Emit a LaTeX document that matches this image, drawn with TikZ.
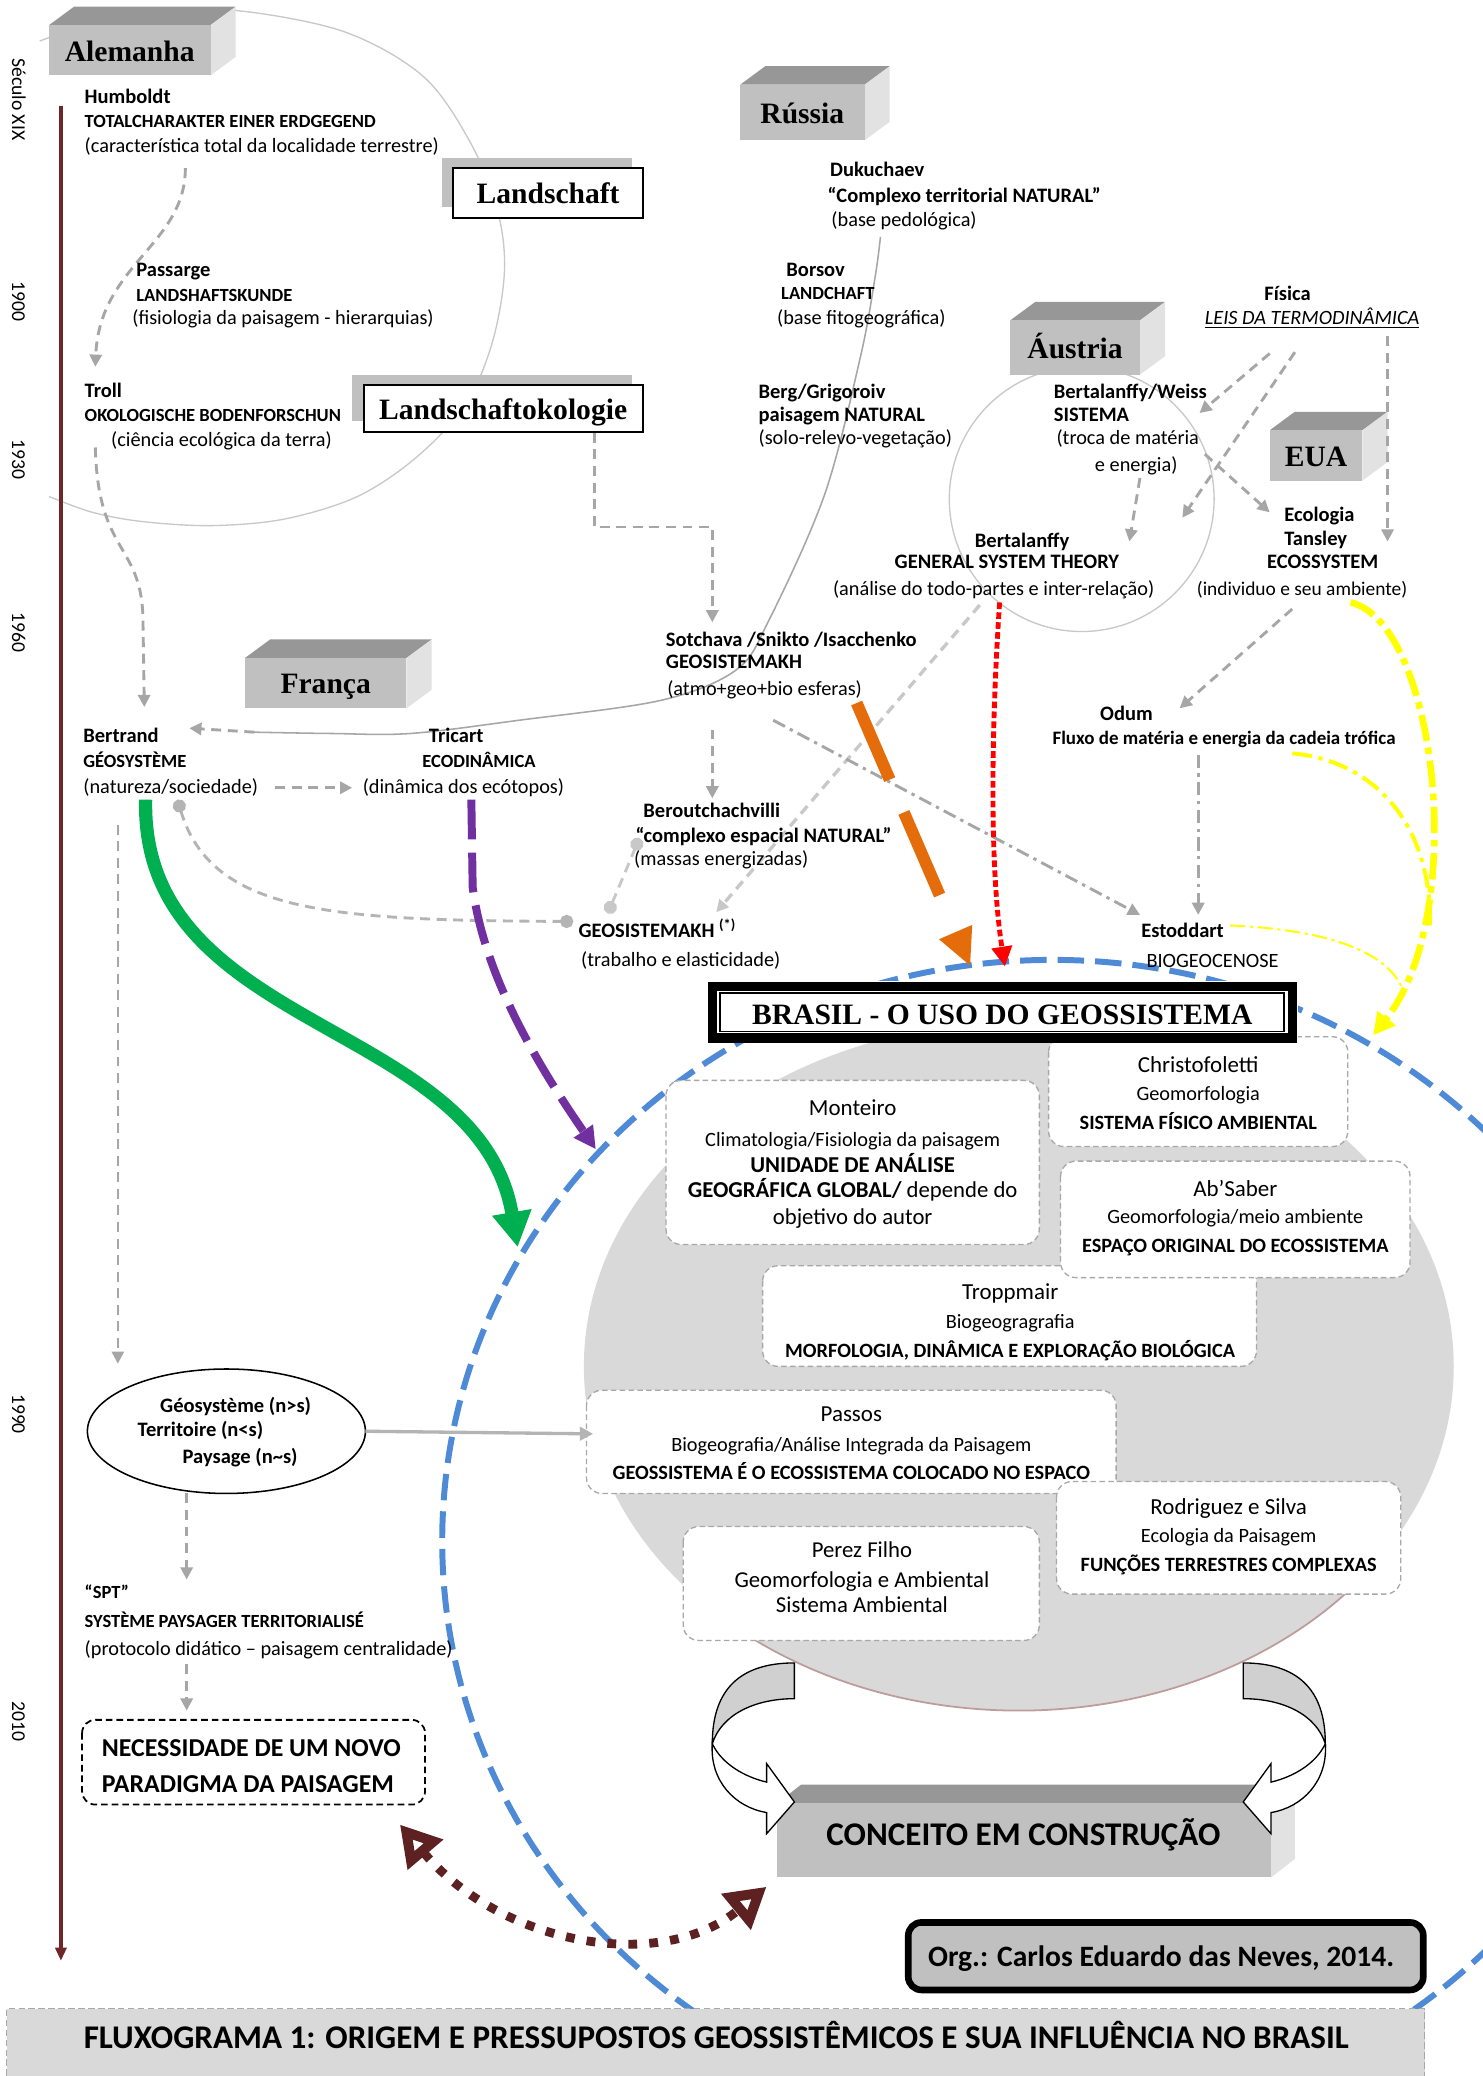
\documentclass[tikz,border=0pt]{standalone}
\usepackage{fontspec}
\setmainfont{Carlito}
\newfontfamily\titlefont{Liberation Serif}
\usetikzlibrary{arrows.meta,shapes.geometric}

\definecolor{timeline}{HTML}{6E2626}
\definecolor{linkgray}{HTML}{A6A6A6}
\definecolor{softgray}{HTML}{C8C8C8}
\definecolor{dotgray}{HTML}{B4B4B4}
\definecolor{boxrim}{HTML}{A8A8A8}
\definecolor{areagray}{HTML}{D9D9D9}
\definecolor{arearim}{HTML}{BE9C9C}
\definecolor{geoblue}{HTML}{4F8AD6}
\definecolor{geogreen}{HTML}{00B050}
\definecolor{geopurple}{HTML}{7030A0}
\definecolor{geoorange}{HTML}{E46C0A}
\definecolor{geoyellow}{HTML}{FFFF00}
\definecolor{geobrown}{HTML}{5E2121}
\definecolor{cubefront}{HTML}{C0C0C0}
\definecolor{cubetop}{HTML}{979797}
\definecolor{cubeside}{HTML}{E2E2E2}
\definecolor{ribbon}{HTML}{D0D0D0}

\tikzset{
  base/.style={inner sep=0pt, outer sep=0pt},
  lab/.style={base, anchor=west},
  hd/.style={lab, font=\fontsize{9.3}{11}\selectfont\bfseries, text height=7pt, text depth=0.8pt},
  cp/.style={lab, font=\fontsize{8.4}{10}\selectfont\bfseries, text height=6.3pt, text depth=0.8pt},
  ps/.style={lab, font=\fontsize{9.2}{11}\selectfont, text height=6.9pt, text depth=0.8pt},
  mid/.style={anchor=center},
  yearlab/.style={base, rotate=-90, font=\fontsize{8.9}{10}\selectfont, text height=6.7pt, text depth=0.8pt},
  ctitle/.style={base, font=\titlefont\bfseries\fontsize{13.4}{15}\selectfont, text height=9.5pt, text depth=1pt},
  bname/.style={base, font=\fontsize{10.4}{12}\selectfont, text height=7.8pt, text depth=0.9pt},
  bsub/.style={base, font=\fontsize{9.2}{11}\selectfont, text height=6.9pt, text depth=0.8pt},
  bcaps/.style={base, font=\fontsize{9.2}{11}\selectfont\bfseries, text height=6.9pt, text depth=0.8pt},
  bbig/.style={base, font=\fontsize{10.3}{12}\selectfont, text height=7.7pt, text depth=0.9pt},
  bigbold/.style={base, font=\fontsize{15}{17}\selectfont\bfseries, text height=11pt, text depth=1.3pt},
  inbox/.style={fill=white, draw=boxrim, line width=0.6pt, dash pattern=on 2.5pt off 1.5pt, rounded corners=7pt},
  link/.style={draw=linkgray, line width=1.3pt, dash pattern=on 4.5pt off 3pt, -{Triangle[length=5.5pt,width=5.5pt]}},
  softlink/.style={link, draw=softgray, line width=1.5pt},
  dashdotlink/.style={link, dash pattern=on 6pt off 2.5pt on 1.5pt off 2.5pt},
  dotlink/.style={draw=dotgray, line width=1.3pt, dash pattern=on 4.5pt off 3pt, {Circle[length=6pt]}-{Circle[length=6pt]}},
}

% grey block with a darker top and a lighter right face
\newcommand\cubebox[6]{%
  \fill[cubetop] (#2,#3) -- (#2+19,#3-14) -- (#4+19,#3-14) -- (#4,#3) -- cycle;
  \fill[cubeside] (#4,#3) -- (#4+19,#3-14) -- (#4+19,#5-14) -- (#4,#5) -- cycle;
  \fill[cubefront] (#2,#3) rectangle (#4,#5);
  \node[ctitle] (#1) at ({(#2+#4)/2},{(#3+#5)/2+1}) {#6};}

\begin{document}
\begin{tikzpicture}[x=0.6pt,y=-0.6pt]
\useasboundingbox (0,0) rectangle (1120,1568);
\fill[white] (0,0) rectangle (1120,1568);

% ---------- outlines behind everything ----------
\draw[softgray, line width=0.6pt] plot[smooth, tension=0.55] coordinates
  {(30,31) (70,18) (120,10) (179,8) (260,24) (320,58) (356,109) (376,160) (381,205) (372,258) (352,305) (315,345) (270,375) (215,392) (160,397) (108,394) (70,387) (37,375)};
\draw[softgray, line width=0.6pt] (817,377) circle [radius=100];

\draw[geoblue, line width=2.7pt, dash pattern=on 12pt off 5pt] (795,1164) ellipse [x radius=461, y radius=439];

\fill[areagray] (769.5,1032) ellipse [x radius=328.5, y radius=260];
\draw[arearim, line width=0.8pt] (769.5,1032) ++(140:328.5 and 260) arc[start angle=140, end angle=35, x radius=328.5, y radius=260];

% ---------- Brazilian authors ----------
\draw[inbox] (503,816) rectangle (785,940);
\draw[inbox] (792,783) rectangle (1018,866);
\draw[inbox] (576,956) rectangle (949,1032);
\draw[inbox] (801,877) rectangle (1065,965);
\draw[inbox] (443,1050) rectangle (843,1128);
\draw[inbox] (798,1119) rectangle (1058,1204);
\draw[inbox] (516,1153) rectangle (785,1239);

\node[bname] (mont1) at (644,837) {Monteiro};
\node[bsub]  (mont2) at (644,861) {Climatologia/Fisiologia da paisagem};
\node[bbig]  (mont3) at (644,880) {\bfseries UNIDADE DE ANÁLISE};
\node[bbig]  (mont4) at (644,899) {{\bfseries GEOGRÁFICA GLOBAL/} depende do};
\node[bbig]  (mont5) at (644,919) {objetivo do autor};

\node[bname] (chr1) at (905,804) {Christofoletti};
\node[bsub]  (chr2) at (905,826) {Geomorfologia};
\node[bcaps] (chr3) at (905,848) {SISTEMA FÍSICO AMBIENTAL};

\node[bname] (abs1) at (933,898) {Ab’Saber};
\node[bsub]  (abs2) at (933,919) {Geomorfologia/meio ambiente};
\node[bcaps] (abs3) at (933,941) {ESPAÇO ORIGINAL DO ECOSSISTEMA};

\node[bname] (tro1) at (763,976) {Troppmair};
\node[bsub]  (tro2) at (763,998) {Biogeogragrafia};
\node[bcaps] (tro3) at (763,1020) {MORFOLOGIA, DINÂMICA E EXPLORAÇÃO BIOLÓGICA};

\node[bname] (pas1) at (643,1068) {Passos};
\node[bsub]  (pas2) at (643,1091) {Biogeografia/Análise Integrada da Paisagem};
\node[bcaps] (pas3) at (643,1112) {GEOSSISTEMA É O ECOSSISTEMA COLOCADO NO ESPACO};

\node[bname] (rod1) at (928,1138) {Rodriguez e Silva};
\node[bsub]  (rod2) at (928,1160) {Ecologia da Paisagem};
\node[bcaps] (rod3) at (928,1182) {FUNÇÕES TERRESTRES COMPLEXAS};

\node[bbig] (per1) at (651,1171) {Perez Filho};
\node[bbig] (per2) at (651,1193) {Geomorfologia e Ambiental};
\node[bbig] (per3) at (651,1212) {Sistema Ambiental};

% ---------- title frame ----------
\fill[white] (534,741) rectangle (980,788);
\draw[line width=4.2pt] (538,745) rectangle (976,784);
\draw[line width=0.8pt] (544,750) rectangle (970,779);
\node[ctitle] (brasil) at (757,767) {BRASIL - O USO DO GEOSSISTEMA};

% ---------- country blocks ----------
\cubebox{alemanha}{37}{19}{159}{57}{Alemanha}
\cubebox{russia}{559}{64}{653}{106}{Rússia}
\cubebox{austria}{763}{242}{861}{283}{Áustria}
\cubebox{eua}{959}{325}{1029}{363}{EUA}
\cubebox{franca}{185}{497}{307}{535}{França}

\fill[cubefront] (334,119) rectangle (477,156);
\draw[fill=white, line width=0.9pt] (342,127) rectangle (486,165);
\node[ctitle] (landschaft) at (414,147) {Landschaft};
\fill[cubefront] (266,283) rectangle (477,318);
\draw[fill=white, line width=0.9pt] (275,291) rectangle (486,326);
\node[ctitle] (lsoek) at (380,310) {Landschaftokologie};

% ---------- concept block and turning arrows ----------
\fill[cubetop] (587,1362) -- (605,1348) -- (978,1348) -- (960,1362) -- cycle;
\fill[cubeside] (960,1362) -- (978,1348) -- (978,1404) -- (960,1418) -- cycle;
\fill[cubefront] (587,1362) rectangle (960,1418);
\node[bigbold] (conceito) at (773,1386) {CONCEITO EM CONSTRUÇÃO};

\filldraw[fill=ribbon, draw=black, line width=0.6pt]
  (600,1256) .. controls (560,1256) and (538,1275) .. (538,1317)
  .. controls (545,1295) and (570,1283) .. (600,1283) -- cycle;
\filldraw[fill=white, draw=black, line width=0.6pt]
  (538,1317) .. controls (536,1345) and (555,1365) .. (579,1369)
  -- (579,1385) -- (600,1361) -- (579,1332) -- (579,1346)
  .. controls (562,1342) and (545,1332) .. (538,1317) -- cycle;
\filldraw[fill=ribbon, draw=black, line width=0.6pt]
  (939,1256) .. controls (979,1256) and (1001,1275) .. (1001,1317)
  .. controls (994,1295) and (969,1283) .. (939,1283) -- cycle;
\filldraw[fill=white, draw=black, line width=0.6pt]
  (1001,1317) .. controls (1003,1345) and (984,1365) .. (960,1369)
  -- (960,1385) -- (939,1361) -- (960,1332) -- (960,1346)
  .. controls (977,1342) and (994,1332) .. (1001,1317) -- cycle;

% ---------- lower left boxes ----------
\node[base, draw, ellipse, line width=0.7pt, minimum width=126pt, minimum height=56.4pt] (geoell) at (171,1081) {};
\draw[line width=0.8pt, dash pattern=on 3pt off 1.8pt, rounded corners=6pt] (62,1299) rectangle (321,1363);
\draw[fill=cubefront, line width=3pt, rounded corners=6pt] (686,1452) rectangle (1075,1503);
\fill[areagray] (5,1517) rectangle (1076,1568);
\draw[boxrim, line width=0.6pt, dash pattern=on 3pt off 1.5pt] (5,1568) -- (5,1517) -- (1076,1517) -- (1076,1568);

% ---------- time axis ----------
\draw[timeline, line width=1.5pt, -{Triangle[length=6pt,width=5pt]}] (46,80) -- (46,1481);
\node[yearlab] (y19) at (14,75) {Século XIX};
\node[yearlab] (y1900) at (14,228) {1900};
\node[yearlab] (y1930) at (14,347) {1930};
\node[yearlab] (y1960) at (14,478) {1960};
\node[yearlab] (y1990) at (14,1068) {1990};
\node[yearlab] (y2010) at (14,1300) {2010};

% ---------- grey connectors ----------
\coordinate (humbA) at (140,127);  \coordinate (trollB) at (72,277);
\draw[link] (humbA) .. controls (140,185) and (75,200) .. (trollB);
\coordinate (trollA) at (72,338);  \coordinate (bertB) at (109,534);
\draw[link] (trollA) .. controls (74,420) and (108,410) .. (108,470) -- (bertB);
\coordinate (lsoekA) at (449,327); \coordinate (sotB) at (538,470);
\draw[link] (lsoekA) -- (449,398) -- (538,398) -- (sotB);
\coordinate (sotA) at (538,551); \coordinate (berB) at (538,603);
\draw[link] (sotA) -- (berB);
\coordinate (bertA) at (208,595); \coordinate (triB) at (266,595);
\draw[link] (bertA) -- (triB);

\coordinate (dukA) at (665,179); \coordinate (dukM) at (192,553); \coordinate (dukB) at (143,550);
\draw[linkgray, line width=0.7pt] plot[smooth, tension=0.55] coordinates
  {(dukA) (661,209) (650,269) (623,373) (581,468) (556,506) (499,529) (392,544) (310,554) (250,554) (dukM)};
\draw[link] (dukM) -- (dukB);

\coordinate (bertC) at (134,604); \coordinate (gkC) at (433,696);
\draw[dotlink] (bertC) .. controls (160,690) and (250,695) .. (gkC);
\coordinate (gkD) at (459,690); \coordinate (berD) at (483,633);
\draw[dotlink, draw=softgray] (gkD) -- (berD);

\coordinate (gstA) at (740,457); \coordinate (gkB) at (541,689);
\draw[softlink] (gstA) -- (gkB);
\coordinate (sotC) at (584,544); \coordinate (stoB) at (861,691);
\draw[dashdotlink] (sotC) -- (stoB);
\coordinate (odA) at (905,570); \coordinate (stoC) at (905,691);
\draw[dashdotlink] (odA) -- (stoC);
\coordinate (tanA) at (976,460); \coordinate (odB) at (891,535);
\draw[link] (tanA) -- (odB);

\coordinate (fisA) at (959,267); \coordinate (weiB) at (906,312);
\draw[link] (fisA) -- (weiB);
\coordinate (fisC) at (978,266); \coordinate (gstB) at (893,391);
\draw[link] (fisC) -- (gstB);
\coordinate (weiA) at (910,343); \coordinate (ecoB) at (959,387);
\draw[link] (weiA) -- (ecoB);
\coordinate (weiC) at (861,361); \coordinate (gstC) at (853,409);
\draw[link] (weiC) -- (gstC);
\coordinate (leisA) at (1048,254); \coordinate (tanB) at (1048,409);
\draw[link] (leisA) -- (tanB);

\coordinate (bertD) at (89,623); \coordinate (ellB) at (89,1030);
\draw[link, line width=1pt] (bertD) -- (ellB);
\coordinate (ellA) at (141,1128); \coordinate (sptB) at (141,1193);
\draw[link] (ellA) -- (sptB);
\coordinate (sptA) at (141,1257); \coordinate (necB) at (141,1292);
\draw[link] (sptA) -- (necB);
\coordinate (pasB) at (448,1083);
\draw[softgray!90!black, line width=1.5pt, -{Triangle[length=6pt,width=6pt]}] (geoell.east) -- (pasB);

% ---------- coloured flows ----------
\coordinate (grA) at (110,604); \coordinate (grB) at (391,942);
\draw[geogreen, line width=6pt, -{Triangle[length=16pt,width=17pt]}] (grA) .. controls (106,780) and (362,770) .. (grB);
\coordinate (puA) at (356,604); \coordinate (puB) at (450,868);
\draw[geopurple, line width=3.6pt, dash pattern=on 18pt off 6pt, -{Triangle[length=10pt,width=10pt]}]
  (puA) -- (357,670) .. controls (366,740) and (410,810) .. (puB);
\coordinate (orA) at (647,531); \coordinate (orB) at (733,730);
\draw[geoorange, line width=5.4pt, dash pattern=on 37.8pt off 16.2pt on 40.8pt off 60pt, -{Triangle[length=17pt,width=15pt]}] (orA) -- (orB);
\coordinate (reA) at (755,455); \coordinate (reB) at (759,730);
\draw[red, line width=2.2pt, dash pattern=on 3pt off 1.5pt, -{Triangle[length=9pt,width=9pt]}]
  (reA) .. controls (748,560) and (748,660) .. (reB);
\coordinate (yeA) at (1020,455); \coordinate (yeB) at (1037,782);
\draw[geoyellow, line width=3pt, dash pattern=on 12pt off 3pt on 3pt off 3pt, -{Triangle[length=10pt,width=10pt]}]
  (yeA) .. controls (1085,470) and (1110,690) .. (yeB);
\coordinate (yeC) at (976,569); \coordinate (yeD) at (1080,700);
\draw[geoyellow, line width=1.8pt, dash pattern=on 9pt off 3pt on 2pt off 3pt] (yeC) .. controls (1040,575) and (1082,625) .. (yeD);
\coordinate (yeE) at (929,699); \coordinate (yeF) at (1061,752);
\draw[geoyellow, line width=0.9pt, dash pattern=on 7pt off 2pt on 1.5pt off 2pt] (yeE) .. controls (1000,702) and (1052,718) .. (yeF);
\coordinate (brA) at (302,1378); \coordinate (brB) at (579,1425);
\draw[geobrown, line width=4pt, dash pattern=on 4pt off 5.5pt,
  {Triangle[open,length=18pt,width=20pt,line width=6pt]}-{Triangle[open,length=18pt,width=20pt,line width=6pt]}]
  (brA) .. controls (380,1470) and (500,1490) .. (brB);

% ---------- labels ----------
\node[hd] (humb1) at (64,73) {Humboldt};
\node[cp] (humb2) at (64,92) {TOTALCHARAKTER EINER ERDGEGEND};
\node[ps] (humb3) at (64,110) {(característica total da localidade terrestre)};
\node[hd] (pass1) at (103,204) {Passarge};
\node[cp] (pass2) at (103,223) {LANDSHAFTSKUNDE};
\node[ps] (pass3) at (100,240) {(fisiologia da paisagem - hierarquias)};
\node[hd] (troll1) at (64,295) {Troll};
\node[cp] (troll2) at (64,314) {OKOLOGISCHE BODENFORSCHUN};
\node[ps] (troll3) at (84,332) {(ciência ecológica da terra)};

\node[hd] (duk1) at (627,128) {Dukuchaev};
\node[hd] (duk2) at (625,148) {“Complexo territorial NATURAL”};
\node[ps] (duk3) at (628,166) {(base pedológica)};
\node[hd] (bor1) at (594,204) {Borsov};
\node[cp] (bor2) at (590,222) {LANDCHAFT};
\node[ps] (bor3) at (587,240) {(base fitogeográfica)};
\node[hd] (berg1) at (573,296) {Berg/Grigoroiv};
\node[hd] (berg2) at (573,313) {paisagem NATURAL};
\node[ps] (berg3) at (573,331) {(solo-relevo-vegetação)};

\node[hd] (fis1) at (955,222) {Física};
\node[ps] (fis2) at (910,240) {\itshape\underline{LEIS DA TERMODINÂMICA}};
\node[hd] (wei1) at (796,296) {Bertalanffy/Weiss};
\node[hd] (wei2) at (796,313) {SISTEMA};
\node[ps] (wei3) at (798,331) {(troca de matéria};
\node[ps] (wei4) at (827,351) {e energia)};
\node[hd, mid] (gst1) at (772,408) {Bertalanffy};
\node[hd, mid] (gst2) at (760.5,424) {GENERAL SYSTEM THEORY};
\node[ps, mid] (gst3) at (750.5,445) {(análise do todo-partes e inter-relação)};
\node[hd] (tan1) at (970,389) {Ecologia};
\node[hd] (tan2) at (970,407) {Tansley};
\node[hd] (tan3) at (957,424) {ECOSSYSTEM};
\node[ps, font=\fontsize{8.8}{10}\selectfont] (tan4) at (904,445) {(individuo e seu ambiente)};

\node[hd] (sot1) at (503,483) {Sotchava /Snikto /Isacchenko};
\node[hd] (sot2) at (503,500) {GEOSISTEMAKH};
\node[ps] (sot3) at (504,520) {(atmo+geo+bio esferas)};
\node[hd] (bert1) at (63,556) {Bertrand};
\node[cp] (bert2) at (63,575) {GÉOSYSTÈME};
\node[ps] (bert3) at (63,594) {(natureza/sociedade)};
\node[hd] (tri1) at (324,556) {Tricart};
\node[cp] (tri2) at (319,575) {ECODINÂMICA};
\node[ps] (tri3) at (274,594) {(dinâmica dos ecótopos)};
\node[hd] (odum1) at (831,539) {Odum};
\node[hd, font=\fontsize{8.6}{10}\selectfont\bfseries] (odum2) at (795,557) {Fluxo de matéria e energia da cadeia trófica};
\node[hd] (ber1) at (486,612) {Beroutchachvilli};
\node[hd] (ber2) at (480,631) {“complexo espacial NATURAL”};
\node[ps] (ber3) at (479,649) {(massas energizadas)};
\node[hd] (gk1) at (437,703) {GEOSISTEMAKH \textsuperscript{(*)}};
\node[ps] (gk2) at (439,725) {(trabalho e elasticidade)};
\node[hd] (sto1) at (862,703) {Estoddart};
\node[ps] (sto2) at (866,726) {BIOGEOCENOSE};

\node[hd] (ell1) at (121,1062) {Géosystème (n>s)};
\node[hd] (ell2) at (104,1080) {Territoire (n<s)};
\node[hd] (ell3) at (138,1100) {Paysage (n\textasciitilde s)};
\node[cp] (spt1) at (64,1203) {“SPT”};
\node[cp] (spt2) at (64,1225) {SYSTÈME PAYSAGER TERRITORIALISÉ};
\node[ps] (spt3) at (64,1245) {(protocolo didático – paisagem centralidade)};
\node[lab, font=\fontsize{11.7}{14}\selectfont\bfseries, text height=8.8pt, text depth=1pt] (nec1) at (77,1320) {NECESSIDADE DE UM NOVO};
\node[lab, font=\fontsize{11.7}{14}\selectfont\bfseries, text height=8.8pt, text depth=1pt] (nec2) at (77,1347) {PARADIGMA DA PAISAGEM};

\node[base, font=\fontsize{13.4}{15}\selectfont\bfseries, text height=10pt, text depth=1.2pt] (org) at (877,1478) {Org.: Carlos Eduardo das Neves, 2014.};
\node[bigbold] (fluxo) at (541,1539) {FLUXOGRAMA 1: ORIGEM E PRESSUPOSTOS GEOSSISTÊMICOS E SUA INFLUÊNCIA NO BRASIL};
\end{tikzpicture}
\end{document}
